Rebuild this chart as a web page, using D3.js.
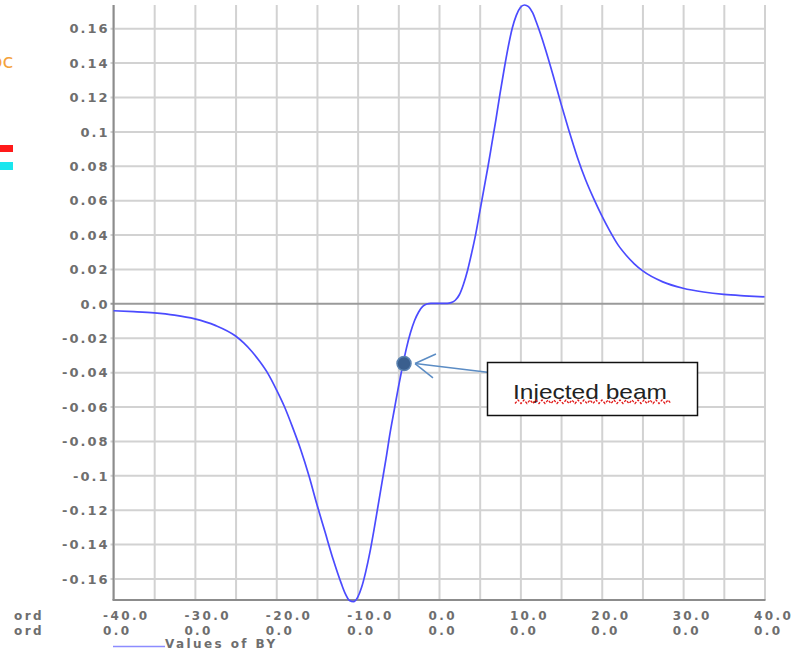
<!DOCTYPE html>
<html lang="en">
<head>
<meta charset="UTF-8">
<title>Values of BY</title>
<script src="https://d3js.org/d3.v7.min.js"></script>
<style>
  body { margin: 0; background: #fff; }
  svg { display: block; }
  .lbl { font: bold 13px "DejaVu Sans", sans-serif; fill: #6e6e6e; letter-spacing: 2px; }
  .xl { font: bold 12px "DejaVu Sans", sans-serif; fill: #6e6e6e; letter-spacing: 2.4px; }
  .grid line { stroke: #d2d2d2; stroke-width: 2; }
</style>
</head>
<body>
<svg id="chart" width="794" height="650"></svg>
<script>
// BY along the orbit
const posX = [-40, -37.5, -35, -32.5, -30, -27.5, -25, -24, -23, -22, -21, -20, -19, -18, -17, -16, -15, -14, -13, -12,
  -11.5, -11, -10.5, -10, -9.5, -9, -8.5, -8, -7.5, -7, -6.5, -6, -5.5, -5, -4.5, -4, -3.5, -3, -2.5, -2, -1.5, -1,
  0, 1, 1.5, 2, 2.5, 3, 3.5, 4, 4.5, 5, 5.5, 6, 6.5, 7, 7.5, 8, 8.5, 9, 9.5, 10, 10.5, 11, 11.5, 12, 13, 14, 15,
  16, 17, 18, 19, 20, 21, 22, 23, 24, 25, 27.5, 30, 32.5, 35, 37.5, 40];
const valuesBY = [-0.0043, -0.0048, -0.0055, -0.0068, -0.009, -0.0128, -0.019, -0.023, -0.028, -0.034, -0.041, -0.05,
  -0.06, -0.072, -0.085, -0.1, -0.117, -0.133, -0.149, -0.163, -0.169, -0.1728, -0.1735, -0.171, -0.165, -0.156,
  -0.145, -0.132, -0.118, -0.104, -0.09, -0.075, -0.062, -0.049, -0.037, -0.026, -0.017, -0.01, -0.005, -0.0018,
  -0.0004, 0, 0, 0, 0.0004, 0.0018, 0.005, 0.011, 0.019, 0.029, 0.04, 0.053, 0.066, 0.079, 0.093, 0.107, 0.122,
  0.136, 0.149, 0.16, 0.1675, 0.172, 0.1735, 0.1725, 0.169, 0.163, 0.149, 0.133, 0.116, 0.1, 0.085, 0.072, 0.061,
  0.051, 0.042, 0.034, 0.028, 0.023, 0.019, 0.0125, 0.0088, 0.0066, 0.0052, 0.0044, 0.0038];

const xGrid = [-40, -35, -30, -25, -20, -15, -10, -5, 0, 5, 10, 15, 20, 25, 30, 35, 40];
const xTicks = [-40, -30, -20, -10, 0, 10, 20, 30, 40];
const xTickLabels = ["-40.0", "-30.0", "-20.0", "-10.0", "0.0", "10.0", "20.0", "30.0", "40.0"];
const xTickLabels2 = ["0.0", "0.0", "0.0", "0.0", "0.0", "0.0", "0.0", "0.0", "0.0"];
const yTicks = [-0.16, -0.14, -0.12, -0.1, -0.08, -0.06, -0.04, -0.02, 0, 0.02, 0.04, 0.06, 0.08, 0.1, 0.12, 0.14, 0.16];
const yTickLabels = ["-0.16", "-0.14", "-0.12", "-0.1", "-0.08", "-0.06", "-0.04", "-0.02", "0.0",
  "0.02", "0.04", "0.06", "0.08", "0.1", "0.12", "0.14", "0.16"];
const rowNames = ["X Coord", "Y Coord"];
const legendName = "Values of BY";
const injected = { x: -4.3, y: -0.035, label: "Injected beam" };

const pLeft = 113.5, pRight = 764.5, pTop = 5, pBottom = 600;
const pw = pRight - pLeft, ph = pBottom - pTop;
const row1 = 20, row2 = 35;

const svg = d3.select("#chart");
const x = d3.scaleLinear().domain([-40, 40]).range([pLeft, pRight]);
const y = d3.scaleLinear().domain([-0.1725, 0.1735]).range([pBottom, pTop]);

// the panel to the left is cut by the picture edge
svg.append("clipPath").attr("id", "side").append("rect")
  .attr("x", 12).attr("y", 0).attr("width", 100).attr("height", 650);

svg.append("text").attr("x", 13.5).attr("y", 68).attr("text-anchor", "end")
  .style("font", "20px 'DejaVu Sans', sans-serif").attr("fill", "#f4a23c").text("Doc");
svg.append("rect").attr("x", 0).attr("y", 145).attr("width", 13).attr("height", 7).attr("fill", "#ff1a1a");
svg.append("rect").attr("x", 0).attr("y", 162).attr("width", 13).attr("height", 8).attr("fill", "#19e6ee");

// grid via axes
const gx = svg.append("g").attr("class", "grid").attr("transform", `translate(0,${pBottom})`)
  .call(d3.axisBottom(x).tickValues(xGrid).tickSize(-ph).tickFormat(""));
gx.select(".domain").remove();

const gy = svg.append("g").attr("class", "grid").attr("transform", `translate(${pLeft},0)`)
  .call(d3.axisLeft(y).tickValues(yTicks).tickSize(-pw).tickFormat((d, i) => yTickLabels[i]));
gy.select(".domain").remove();
gy.selectAll(".tick line").attr("x1", -3)
  .style("stroke", d => d === 0 ? "#9a9a9a" : null);
gy.selectAll(".tick text").attr("class", "lbl").attr("fill", null).attr("x", -4).attr("dy", "0.36em");

// x labels, two rows
const xl = svg.append("g").attr("transform", `translate(0,${pBottom})`)
  .call(d3.axisBottom(x).tickValues(xTicks).tickSize(0).tickFormat((d, i) => xTickLabels[i]));
xl.select(".domain").remove();
xl.selectAll(".tick text").attr("class", "xl").attr("fill", null).attr("text-anchor", "start")
  .attr("x", -11).attr("y", row1).attr("dy", 0);
xl.selectAll(".tick").append("text").attr("class", "xl").attr("text-anchor", "start")
  .attr("x", -11).attr("y", row2).text((d, i) => xTickLabels2[i]);
rowNames.forEach((n, i) => {
  svg.append("text").attr("class", "xl").attr("text-anchor", "end").attr("clip-path", "url(#side)")
    .attr("x", 44).attr("y", pBottom + (i ? row2 : row1)).text(n);
});

// axes
svg.append("line").attr("x1", pLeft).attr("x2", pLeft).attr("y1", pTop).attr("y2", pBottom)
  .attr("stroke", "#8c8c8c").attr("stroke-width", 2);
svg.append("line").attr("x1", pLeft - 1).attr("x2", pRight + 1).attr("y1", pBottom).attr("y2", pBottom)
  .attr("stroke", "#8c8c8c").attr("stroke-width", 2);

// curve
const pts = posX.map((v, i) => [v, valuesBY[i]]);
svg.append("path").datum(pts)
  .attr("fill", "none").attr("stroke", "#4b4bff").attr("stroke-width", 1.7)
  .attr("d", d3.line().x(d => x(d[0])).y(d => y(d[1])).curve(d3.curveMonotoneX));

// legend
svg.append("line").attr("x1", 113).attr("x2", 165).attr("y1", 646.5).attr("y2", 646.5)
  .attr("stroke", "#8c8cff").attr("stroke-width", 1.5);
svg.append("text").attr("class", "xl").attr("x", 165).attr("y", 647.5).text(legendName);

// injected beam callout
const px = x(injected.x), py = y(injected.y);
const bx = 487.5, by = 362.5, bw = 210, bh = 53;
const tipX = px + 11, tipY = py;
const ang = Math.atan2((by + 10) - tipY, bx - tipX);
const arrow = svg.append("g").attr("stroke", "#5b8cc4").attr("stroke-width", 1.5).attr("fill", "none");
arrow.append("line").attr("x1", bx + 2).attr("y1", by + 10).attr("x2", tipX).attr("y2", tipY);
[0.55, -0.55].forEach(a => {
  arrow.append("line").attr("x1", tipX).attr("y1", tipY)
    .attr("x2", tipX + 23 * Math.cos(ang + a)).attr("y2", tipY + 23 * Math.sin(ang + a));
});
svg.append("circle").attr("cx", px).attr("cy", py).attr("r", 7)
  .attr("fill", "#3a5f8e").attr("stroke", "#5a82b0").attr("stroke-width", 1.5);

svg.append("rect").attr("x", bx).attr("y", by).attr("width", bw).attr("height", bh)
  .attr("fill", "#fff").attr("stroke", "#111").attr("stroke-width", 1.5);
svg.append("text").attr("x", 513).attr("y", 399)
  .attr("textLength", 154).attr("lengthAdjust", "spacingAndGlyphs")
  .style("font", "21px 'Liberation Sans', Arial, sans-serif").attr("fill", "#222").text(injected.label);
// spell-check squiggle
const sq = d3.range(515, 672, 3).map((v, i) => [v, i % 2 ? 400 : 403.5]);
svg.append("path").attr("d", d3.line()(sq)).attr("fill", "none")
  .attr("stroke", "#e01818").attr("stroke-width", 1.3).attr("stroke-dasharray", "2.5,1.5");
</script>
</body>
</html>
